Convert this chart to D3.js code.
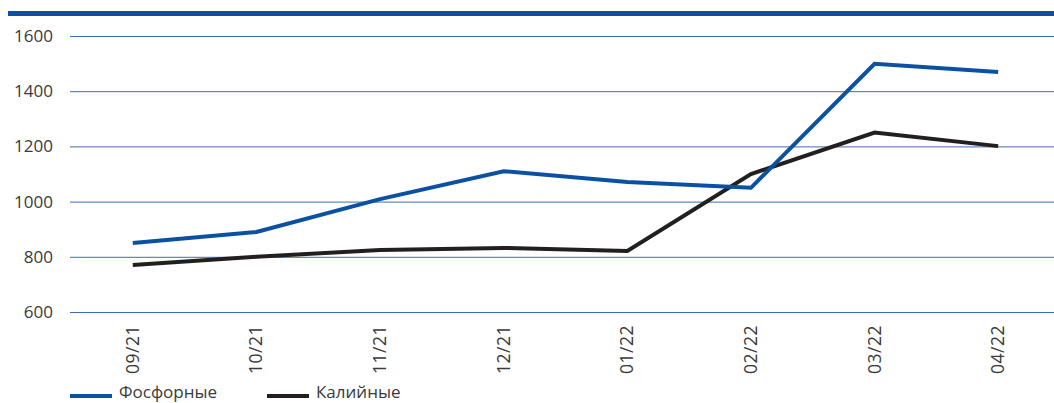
<!DOCTYPE html>
<html lang="ru">
<head>
<meta charset="UTF-8">
<title>chart</title>
<style>
  body { margin: 0; background: #fff; }
  text { font-family: "Open Sans", sans-serif; fill: #3a3a3a; }
</style>
</head>
<body>
<script src="https://cdnjs.cloudflare.com/ajax/libs/d3/7.8.5/d3.min.js"></script>
<script>
const months = ["09/21", "10/21", "11/21", "12/21", "01/22", "02/22", "03/22", "04/22"]
const phosphate = [850, 890, 1009, 1110, 1071, 1050, 1499, 1470]
const potash = [770, 800, 825, 832, 821, 1100, 1250, 1201]
const yTicks = [600, 800, 1000, 1200, 1400, 1600]

const width = 1054, height = 403
const blue = "#0b51a3", dark = "#231f20"

const svg = d3.select("body").append("svg")
    .attr("width", width)
    .attr("height", height)

// top rule
svg.append("rect")
    .attr("x", 8).attr("y", 11)
    .attr("width", width - 8).attr("height", 5)
    .attr("fill", blue)

const x = d3.scalePoint().domain(months).range([71, 1060]).padding(0.5)
const y = d3.scaleLinear().domain([600, 1600]).range([312, 36])

// grid + y labels
const yAxis = svg.append("g")
    .attr("transform", "translate(70,0)")
    .call(d3.axisRight(y).tickValues(yTicks).tickSize(width - 70).tickFormat(""))
yAxis.select(".domain").remove()
yAxis.selectAll("line").attr("stroke", "#3b6db3").attr("stroke-width", 1)

svg.selectAll(".ylab").data(yTicks).join("text")
    .attr("class", "ylab")
    .attr("x", 53)
    .attr("y", d => y(d) + 6)
    .attr("text-anchor", "end")
    .attr("font-size", 17)
    .text(d => d)

// x labels
svg.selectAll(".xlab").data(months).join("text")
    .attr("class", "xlab")
    .attr("transform", d => `translate(${x(d) + 6},325) rotate(-90)`)
    .attr("text-anchor", "end")
    .attr("font-size", 17.5)
    .attr("letter-spacing", 0.5)
    .text(d => d)

const line = d3.line().x((d, i) => x(months[i])).y(d => y(d))

svg.append("path").datum(potash)
    .attr("d", line).attr("fill", "none")
    .attr("stroke", dark).attr("stroke-width", 4)

svg.append("path").datum(phosphate)
    .attr("d", line).attr("fill", "none")
    .attr("stroke", blue).attr("stroke-width", 4)

// legend
const legend = [["Фосфорные", blue, 70], ["Калийные", dark, 267]]
legend.forEach(([name, col, lx]) => {
    svg.append("line")
        .attr("x1", lx).attr("x2", lx + 42)
        .attr("y1", 396).attr("y2", 396)
        .attr("stroke", col).attr("stroke-width", 4)
    svg.append("text")
        .attr("x", lx + 49).attr("y", 398)
        .attr("font-size", 17)
        .text(name)
})
</script>
</body>
</html>
